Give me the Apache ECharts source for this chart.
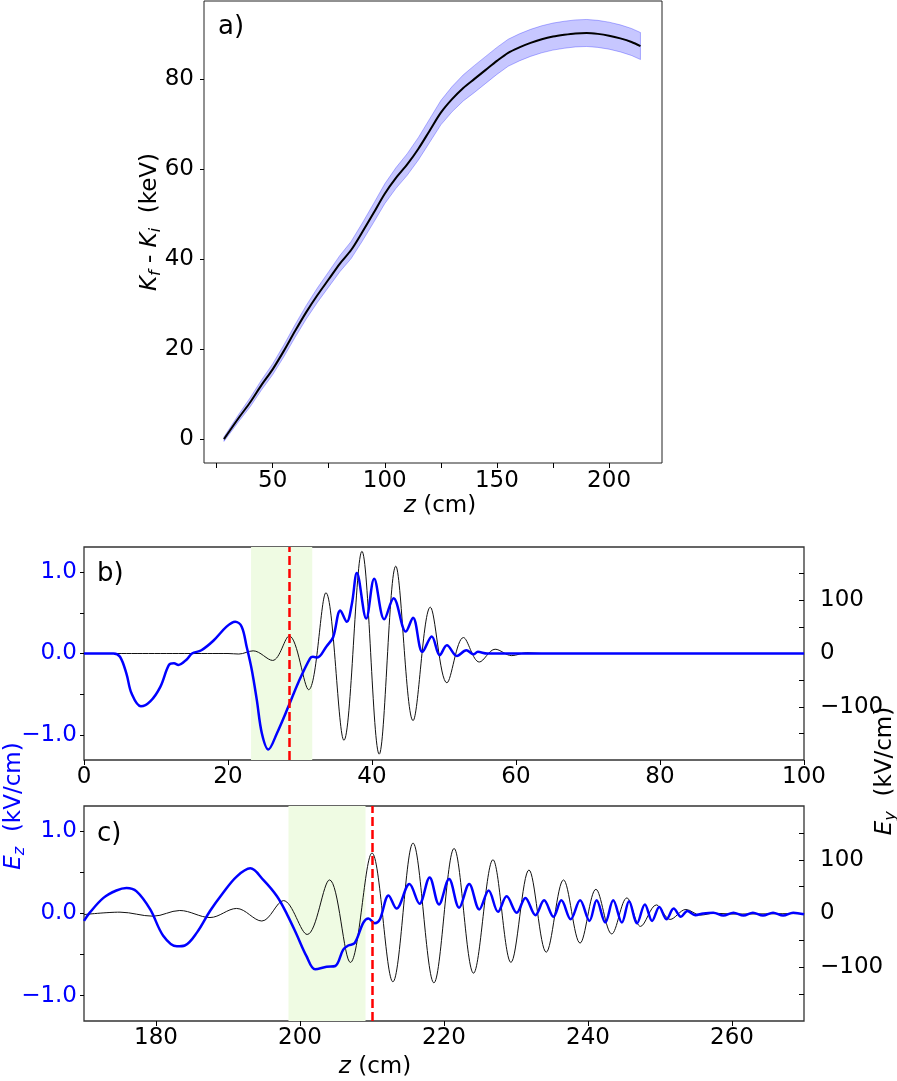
<!DOCTYPE html>
<html>
<head>
<meta charset="utf-8">
<script src="https://cdn.jsdelivr.net/npm/echarts@6/dist/echarts.min.js"></script>
<style>
  html, body { margin: 0; padding: 0; background: #fff; }
  #chart { width: 897px; height: 1081px; }
</style>
</head>
<body>
<div id="chart"></div>
<script>
// a) energy gain vs z, with spread band
const zA   = [28.3, 35, 40, 45, 50, 55, 60, 65, 70, 75, 80, 85, 90, 95, 100, 105, 110, 115, 120, 125, 130, 135, 140, 145, 150, 155, 160, 165, 170, 175, 180, 185, 190, 195, 200, 205, 210, 214];
const kA   = [0, 4.8, 8.2, 12, 15.5, 19.6, 24, 28.2, 32, 35.5, 39, 42, 46, 50.2, 54.5, 58, 61, 64.5, 68.5, 72.5, 75.5, 78, 80, 82, 84, 85.8, 87, 88, 88.8, 89.4, 89.8, 90.1, 90.2, 90, 89.6, 89, 88.2, 87.3];
const errA = [0.5, 0.8, 1, 1.1, 1.2, 1.3, 1.4, 1.5, 1.6, 1.7, 1.8, 1.9, 2, 2.1, 2.2, 2.3, 2.4, 2.5, 2.6, 2.7, 2.8, 2.9, 3, 3, 3, 3, 3, 3, 3, 3, 3, 3, 3, 3, 3, 3, 3, 3];

// b) fields at first position
const zEzB = [0, 4.1, 5.0, 5.9, 6.6, 7.9, 9.2, 10.6, 11.8, 12.5, 13.1, 14.3, 15.0, 16.3, 18.0, 19.8, 21.0, 21.9, 22.6, 23.3, 24.0, 24.7, 25.6, 26.8, 28.4, 29.8, 31.4, 31.8, 32.4, 33.7, 34.6, 35.6, 36.5, 37.2, 37.9, 39.2, 40.3, 41.7, 43.0, 44.7, 45.7, 47.0, 48.3, 49.4, 50.4, 51.8, 53.1, 54.1, 54.7, 56, 100];
const ezB  = [0, 0, -0.04, -0.25, -0.49, -0.65, -0.59, -0.41, -0.14, -0.12, -0.14, -0.07, 0, 0.04, 0.16, 0.33, 0.39, 0.33, 0.08, -0.2, -0.57, -0.98, -1.18, -0.98, -0.65, -0.35, -0.06, -0.04, -0.05, 0.09, 0.2, 0.53, 0.39, 0.61, 0.99, 0.43, 0.92, 0.42, 0.68, 0.27, 0.44, 0.02, 0.21, -0.02, 0.10, -0.03, 0.04, -0.01, 0.02, 0, 0];
const zEyB = [0, 20, 21.5, 23.5, 26.2, 28.5, 31.2, 33.6, 36.1, 38.6, 41.0, 43.3, 45.7, 48.1, 50.4, 52.7, 54.9, 57.1, 59.4, 61.5, 63.5, 100];
const eyB  = [0, 0, -1, 5, -13, 33, -68, 114, -163, 192, -189, 164, -126, 87, -55, 30, -16, 8, -4, 1.5, 0, 0];
const bandB = [23.2, 31.7];
const markB = 28.5;

// c) fields at second position
const zEzC = [170, 170.8, 172.7, 174.5, 175.9, 177.3, 179.2, 181.0, 182.9, 184.0, 185.7, 187.5, 189.3, 191.2, 193.1, 194.9, 196.8, 198.2, 199.5, 200.9, 202.1, 203.7, 204.9, 206.0, 206.7, 207.6, 208.8, 209.5, 210.4, 211.1, 212.3, 213.4, 215.2, 216.6, 218.0, 219.3, 220.7, 222.1, 223.5, 224.9, 226.2, 227.5, 228.7, 230.1, 231.3, 232.7, 233.9, 235.2, 236.3, 237.6, 238.9, 240.2, 241.2, 242.4, 243.5, 244.7, 245.7, 246.8, 247.9, 248.9, 249.9, 250.9, 251.9, 252.9, 253.8, 254.9, 256, 257.4, 258.8, 260.2, 261.6, 262.9, 264.3, 265.7, 267.1, 268.5, 270];
const ezC  = [-0.09, 0.01, 0.19, 0.28, 0.31, 0.27, 0.05, -0.27, -0.40, -0.39, -0.23, 0.03, 0.25, 0.45, 0.55, 0.41, 0.21, -0.01, -0.25, -0.52, -0.68, -0.65, -0.64, -0.44, -0.39, -0.36, -0.11, -0.06, -0.12, -0.07, 0.22, 0.06, 0.36, 0.12, 0.44, 0.11, 0.42, 0.07, 0.36, 0.05, 0.28, 0.02, 0.21, 0.01, 0.19, -0.02, 0.16, -0.04, 0.16, -0.07, 0.16, -0.09, 0.16, -0.11, 0.16, -0.11, 0.15, -0.12, 0.11, -0.09, 0.08, -0.07, 0.06, -0.04, 0.03, -0.02, 0.0, 0.01, -0.025, 0.01, -0.025, 0.01, -0.025, 0.01, -0.025, 0.01, -0.01];
const zEyC = [170, 175, 179.6, 183.3, 187.5, 191.2, 194.7, 197.7, 201.0, 204.1, 207.0, 210.0, 212.9, 215.7, 218.6, 221.4, 224.1, 226.8, 229.3, 231.8, 234.2, 236.6, 238.9, 241.1, 243.3, 245.4, 247.3, 249.5, 251.4, 253.6, 255.6, 257.5, 260, 270];
const eyC  = [-2, 2.5, -5, 5.6, -7.5, 9.4, -14, 24, -39, 62.5, -91, 112.5, -127, 131, -129, 121, -111, 100, -91, 81, -72, 62.5, -55, 45, -38, 29, -24, 16, -11, 7.5, -3, 0.5, -1, 0];
const bandC = [198.4, 209.1];
const markC = 210.1;

// ticks
const ticksXA = [25, 50, 75, 100, 125, 150, 175, 200];
const labelsXA = [50, 100, 150, 200];
const ticksYA = [0, 20, 40, 60, 80];
const ticksXB = [0, 20, 40, 60, 80, 100];
const ticksXC = [180, 200, 220, 240, 260];
const ticksEz = [-1, -0.5, 0, 0.5, 1];
const labelsEz = [-1, 0, 1];
const ticksEy = [-150, -100, -50, 0, 50, 100, 150];
const labelsEy = [-100, 0, 100];

const FONT = 'DejaVu Sans';
const BLUE = '#0000ff';
const pairs = (xs, ys) => xs.map((x, i) => [x, ys[i]]);
const minus = v => (v < 0 ? '\u2212' : '') + Math.abs(v);
const minus1 = v => (v < 0 ? '\u2212' : '') + Math.abs(v).toFixed(1);

function xAx(grid, min, max, ticks, labels, margin) {
  return {
    type: 'value', gridIndex: grid, min: min, max: max,
    axisLine: { show: false, onZero: false }, splitLine: { show: false },
    axisTick: { show: true, length: 5, customValues: ticks, lineStyle: { color: '#000' } },
    axisLabel: { customValues: labels, fontFamily: FONT, fontSize: 23, color: '#000', margin: margin }
  };
}
function yAx(grid, pos, min, max, ticks, labels, color, inside, margin, fmt) {
  return {
    type: 'value', gridIndex: grid, position: pos, min: min, max: max,
    axisLine: { show: false, onZero: false }, splitLine: { show: false },
    axisTick: { show: true, length: inside ? 5 : 4, inside: inside, customValues: ticks, lineStyle: { color: '#000' } },
    axisLabel: { customValues: labels, fontFamily: FONT, fontSize: 23, color: color, margin: margin, formatter: fmt }
  };
}

function label(text, x, y, color, rot) {
  return {
    type: 'text', x: x, y: y, rotation: rot, style: {
      text: text, align: 'center', verticalAlign: 'middle',
      rich: {
        i: { fontFamily: FONT, fontSize: 23, fontStyle: 'italic', fill: color, lineHeight: 28, verticalAlign: 'middle' },
        s: { fontFamily: FONT, fontSize: 16, fontStyle: 'italic', fill: color, lineHeight: 12, verticalAlign: 'bottom' },
        n: { fontFamily: FONT, fontSize: 23, fill: color, lineHeight: 28, verticalAlign: 'middle' }
      }
    }
  };
}

const option = {
  animation: false,
  backgroundColor: '#fff',
  grid: [
    { left: 204, top: 1, width: 458, height: 462, show: true, borderColor: '#222', borderWidth: 1, backgroundColor: 'transparent', outerBoundsMode: 'none' },
    { left: 84, top: 547, width: 720, height: 213, show: true, borderColor: '#333', borderWidth: 1.3, backgroundColor: 'transparent', outerBoundsMode: 'none' },
    { left: 84, top: 806, width: 720, height: 215, show: true, borderColor: '#333', borderWidth: 1.3, backgroundColor: 'transparent', outerBoundsMode: 'none' }
  ],
  xAxis: [
    xAx(0, 19.4, 223.6, ticksXA, labelsXA, 7),
    xAx(1, 0, 100, ticksXB, ticksXB, 6),
    xAx(2, 170, 270, ticksXC, ticksXC, 6)
  ],
  yAxis: [
    yAx(0, 'left', -5.3, 97.3, ticksYA, ticksYA, '#000', false, 10, v => String(v)),
    yAx(1, 'left', -1.31, 1.31, ticksEz, labelsEz, BLUE, false, 7, minus1),
    yAx(1, 'right', -200, 200, ticksEy, labelsEy, '#000', true, 16, minus),
    yAx(2, 'left', -1.31, 1.31, ticksEz, labelsEz, BLUE, false, 7, minus1),
    yAx(2, 'right', -200, 200, ticksEy, labelsEy, '#000', true, 16, minus)
  ],
  series: [
    // spread band drawn as one polygon through the axis scales
    { type: 'custom', xAxisIndex: 0, yAxisIndex: 0, silent: true, z: 1,
      data: zA.map((z, i) => [z, kA[i] - errA[i], kA[i] + errA[i]]),
      encode: { x: 0, y: [1, 2] },
      renderItem: function (params, api) {
        if (params.dataIndex !== 0) return null;
        const up = zA.map((z, i) => api.coord([z, kA[i] + errA[i]]));
        const dn = zA.map((z, i) => api.coord([z, kA[i] - errA[i]])).reverse();
        return { type: 'polygon', shape: { points: up.concat(dn) },
          style: { fill: 'rgba(0,0,255,0.22)', stroke: 'rgba(0,0,255,0.28)', lineWidth: 1 } };
      } },
    { type: 'line', xAxisIndex: 0, yAxisIndex: 0, data: pairs(zA, kA), showSymbol: false, silent: true, smooth: 0.3,
      lineStyle: { color: '#000', width: 2 }, z: 4 },

    { type: 'line', xAxisIndex: 1, yAxisIndex: 2, data: pairs(zEyB, eyB), showSymbol: false, silent: true, smooth: 0.35,
      lineStyle: { color: '#111', width: 1 }, z: 3,
      markArea: { silent: true, itemStyle: { color: '#effbe3' }, data: [[{ xAxis: bandB[0] }, { xAxis: bandB[1] }]] },
      markLine: { silent: true, symbol: 'none', label: { show: false },
        lineStyle: { color: '#ff0000', width: 2.5, type: [9, 4] }, data: [{ xAxis: markB }] } },
    { type: 'line', xAxisIndex: 1, yAxisIndex: 1, data: pairs(zEzB, ezB), showSymbol: false, silent: true, smooth: 0.35,
      lineStyle: { color: BLUE, width: 2.5 }, z: 4 },

    { type: 'line', xAxisIndex: 2, yAxisIndex: 4, data: pairs(zEyC, eyC), showSymbol: false, silent: true, smooth: 0.35,
      lineStyle: { color: '#111', width: 1 }, z: 3,
      markArea: { silent: true, itemStyle: { color: '#effbe3' }, data: [[{ xAxis: bandC[0] }, { xAxis: bandC[1] }]] },
      markLine: { silent: true, symbol: 'none', label: { show: false },
        lineStyle: { color: '#ff0000', width: 2.5, type: [9, 4] }, data: [{ xAxis: markC }] } },
    { type: 'line', xAxisIndex: 2, yAxisIndex: 3, data: pairs(zEzC, ezC), showSymbol: false, silent: true, smooth: 0.35,
      lineStyle: { color: BLUE, width: 2.5 }, z: 4 }
  ],
  graphic: [
    { type: 'text', left: 218, top: 14, style: { text: 'a)', font: '26px "DejaVu Sans"', fill: '#000' } },
    { type: 'text', left: 97, top: 561, style: { text: 'b)', font: '26px "DejaVu Sans"', fill: '#000' } },
    { type: 'text', left: 97, top: 821, style: { text: 'c)', font: '26px "DejaVu Sans"', fill: '#000' } },
    label('{i|z}{n| (cm)}', 440, 506, '#000', 0),
    label('{i|z}{n| (cm)}', 375, 1067, '#000', 0),
    label('{i|K}{s|f}{n| - }{i|K}{s|i}{n|  (keV)}', 150, 222, '#000', Math.PI / 2),
    label('{i|E}{s|z}{n|  (kV/cm)}', 14, 806, BLUE, Math.PI / 2),
    label('{i|E}{s|y}{n|  (kV/cm)}', 885, 771, '#000', Math.PI / 2)
  ]
};

const chart = echarts.init(document.getElementById('chart'), null, { renderer: 'canvas' });
chart.setOption(option);
</script>
</body>
</html>
